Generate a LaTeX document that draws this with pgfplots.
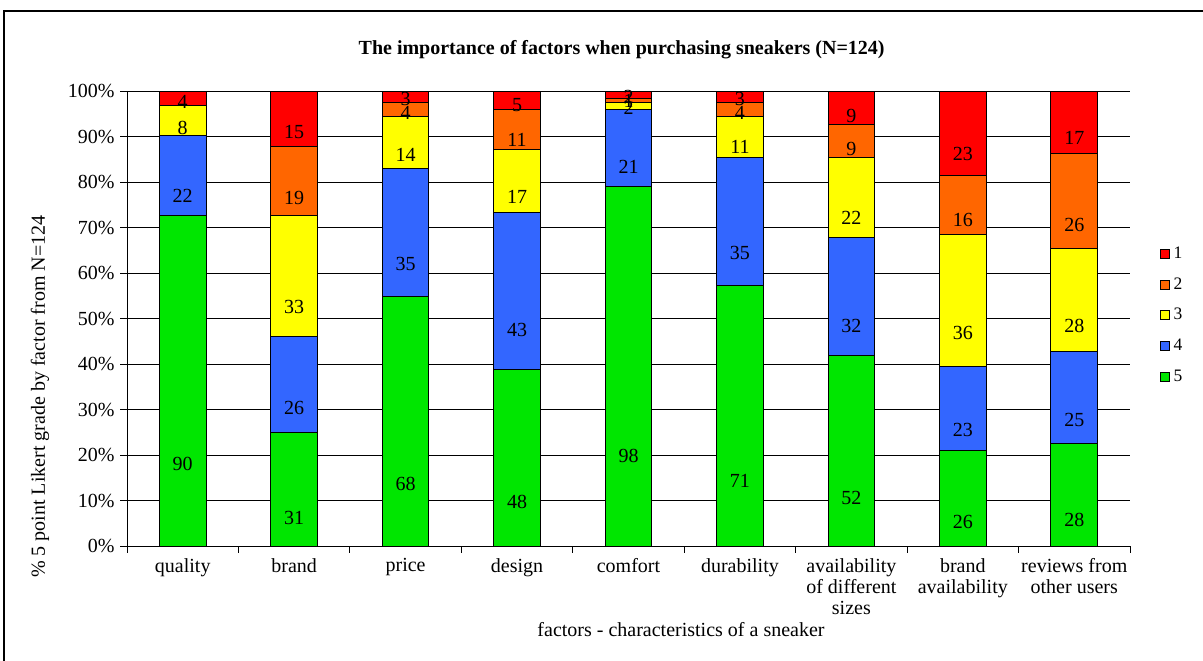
\documentclass[border=0pt]{standalone}
\usepackage{pgfplots}
\pgfplotsset{compat=1.18}
\usepackage{pgfplotstable}
\usepackage{fontspec}
\setmainfont{Liberation Serif}
\definecolor{c5}{RGB}{0,230,0}
\definecolor{c4}{RGB}{51,102,255}
\definecolor{c3}{RGB}{255,255,0}
\definecolor{c2}{RGB}{255,102,0}
\definecolor{c1}{RGB}{255,0,0}
\pgfplotstableread{
x g5 g4 g3 g2 g1
0 90 22 8 0 4
1 31 26 33 19 15
2 68 35 14 4 3
3 48 43 17 11 5
4 98 21 2 1 2
5 71 35 11 4 3
6 52 32 22 9 9
7 26 23 36 16 23
8 28 25 28 26 17
}\data
\newcommand{\seg}[2]{\addplot+[fill=#1, draw=black, line width=0.6pt, visualization depends on={\thisrow{#2} \as \cnt}] table[x=x, y expr=\thisrow{#2}/1.24, meta=#2] {\data};}
\begin{document}
\begin{tikzpicture}[font=\fontsize{12}{13}\selectfont]
\useasboundingbox (0,0) rectangle (721.8pt,396pt);
\draw[line width=0.8pt] (2.4pt,-5pt) -- (2.4pt,389.4pt) -- (730pt,389.4pt);
\begin{axis}[
  at={(76.2pt,68.4pt)}, anchor=south west,
  scale only axis, width=601.8pt, height=273pt,
  ybar stacked, bar width=28pt,
  xmin=-0.5, xmax=8.5, ymin=0, ymax=100.02,
  axis x line*=bottom, axis y line*=left,
  axis line style={-, line width=0.6pt},
  ytick={0,10,...,100},
  yticklabel={\pgfmathprintnumber{\tick}\%},
  /pgf/number format/assume math mode=true,
  ymajorgrids, grid style={black, line width=0.5pt},
  xtick={0,...,8},
  xticklabels={quality, brand, price, design, comfort, durability, {availability\\of different\\sizes}, {brand\\availability}, {reviews from\\other users}},
  xticklabel style={align=center, font=\fontsize{12}{12.6}\selectfont},
  major x tick style={draw=none},
  minor xtick={-0.5,0.5,...,8.5},
  minor tick length=4pt,
  major tick length=4pt,
  tick align=outside,
  tick style={black, line width=0.5pt},
  point meta=explicit,
  nodes near coords={\pgfmathprintnumber{\pgfplotspointmeta}},
  every node near coord/.append style={anchor=center, shift={(axis direction cs:0,-\cnt/4.96)}, text=black, font=\fontsize{12}{13}\selectfont},
  legend style={at={(1.025,0.673)}, anchor=north west, draw=none, fill=none, font=\fontsize{10.5}{11}\selectfont, row sep=6pt},
  legend cell align=left,
  reverse legend,
  legend image code/.code={\draw[#1, draw=black, line width=0.6pt] (0pt,-2.7pt) rectangle (5.4pt,2.7pt);},
]
\seg{c5}{g5}
\seg{c4}{g4}
\seg{c3}{g3}
\seg{c2}{g2}
\seg{c1}{g1}
\legend{5,4,3,2,1}
\end{axis}
\node[font=\bfseries\fontsize{12}{14}\selectfont] at (373pt,366pt) {The importance of factors when purchasing sneakers (N=124)};
\node at (408.6pt,18pt) {factors - characteristics of a sneaker};
\node[rotate=90] at (24pt,158pt) {\% 5 point Likert grade by factor from N=124};
\end{tikzpicture}
\end{document}
